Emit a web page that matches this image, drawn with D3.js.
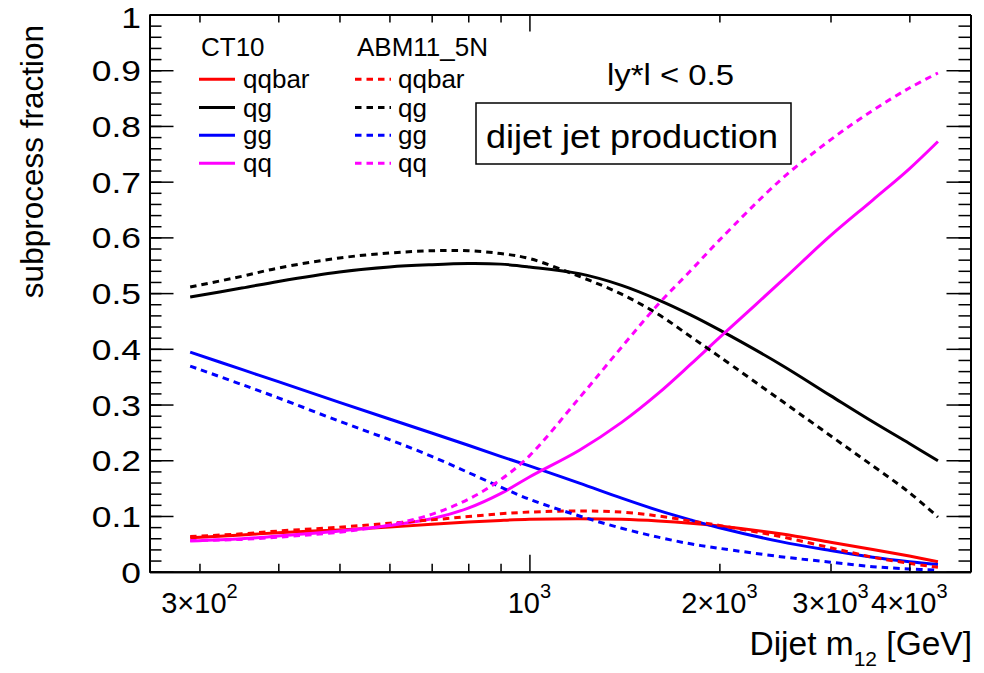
<!DOCTYPE html>
<html><head><meta charset="utf-8">
<script src="https://cdn.jsdelivr.net/npm/d3@7"></script>
<style>
html,body{margin:0;padding:0;background:#fff;}
svg{display:block;font-family:"Liberation Sans",Arial,Helvetica,sans-serif;}
</style></head>
<body><svg id="c" width="984" height="673"></svg>
<script>
// ---- data ----
const mass = [290,350,400,500,600,700,800,900,1000,1200,1400,1600,1800,2000,2500,3000,3500,4000,4440];
const ct10_qqbar = [0.061,0.066,0.070,0.075,0.080,0.085,0.089,0.092,0.094,0.095,0.094,0.091,0.087,0.082,0.068,0.053,0.040,0.028,0.018];
const ct10_qg    = [0.493,0.509,0.521,0.538,0.547,0.551,0.553,0.552,0.547,0.535,0.514,0.488,0.461,0.434,0.372,0.316,0.269,0.230,0.199];
const ct10_gg    = [0.394,0.363,0.341,0.304,0.274,0.249,0.227,0.207,0.190,0.159,0.132,0.110,0.093,0.079,0.054,0.038,0.026,0.018,0.013];
const ct10_qq    = [0.055,0.059,0.064,0.073,0.083,0.095,0.114,0.140,0.170,0.218,0.268,0.320,0.372,0.420,0.520,0.603,0.667,0.723,0.772];
const abm_qqbar  = [0.063,0.068,0.073,0.080,0.087,0.093,0.099,0.104,0.107,0.109,0.107,0.100,0.091,0.083,0.063,0.043,0.026,0.015,0.008];
const abm_qg     = [0.511,0.530,0.545,0.563,0.572,0.576,0.576,0.571,0.562,0.530,0.498,0.462,0.422,0.386,0.308,0.244,0.190,0.142,0.098];
const abm_gg     = [0.369,0.336,0.312,0.270,0.237,0.207,0.178,0.152,0.130,0.100,0.078,0.062,0.050,0.042,0.027,0.017,0.009,0.005,0.003];
const abm_qq     = [0.056,0.058,0.062,0.071,0.084,0.103,0.130,0.165,0.208,0.312,0.403,0.480,0.540,0.595,0.703,0.775,0.828,0.868,0.895];

const xMinorTicks = [300,400,500,600,700,800,900,2000,3000,4000];
const xMajorTicks = [1000];
const xLabels = [{v:300,m:"3×10",e:"2"},{v:1000,m:"10",e:"3"},{v:2000,m:"2×10",e:"3"},{v:3000,m:"3×10",e:"3"},{v:4000,m:"4×10",e:"3"}];
const yMajorTicks = d3.range(0,11).map(i=>i/10);
const yMinorTicks = d3.range(0,51).map(i=>i/50);
const yLabels = ["0","0.1","0.2","0.3","0.4","0.5","0.6","0.7","0.8","0.9","1"];

const seriesColors = ["#ff0000","#000000","#0000ff","#ff00ff"];
const seriesNames = ["qqbar","qg","gg","qq"];
const ct10 = [ct10_qqbar, ct10_qg, ct10_gg, ct10_qq];
const abm = [abm_qqbar, abm_qg, abm_gg, abm_qq];

// ---- layout ----
const L=149.5, R=970.5, T=14.5, B=571.7;
const svg = d3.select("#c");
const x = d3.scaleLog().domain([250,5000]).range([L,R]);
const y = d3.scaleLinear().domain([0,1]).range([B,T]);

// curves
const line = d3.line().x((d,i)=>x(mass[i])).y(d=>y(d)).curve(d3.curveCatmullRom.alpha(0.5));
const gLines = svg.append("g");
ct10.forEach((s,k)=>{
  gLines.append("path").attr("d",line(s)).attr("fill","none")
    .attr("stroke",seriesColors[k]).attr("stroke-width",3);
});
abm.forEach((s,k)=>{
  gLines.append("path").attr("d",line(s)).attr("fill","none")
    .attr("stroke",seriesColors[k]).attr("stroke-width",3).attr("stroke-dasharray","6.5,5");
});

// axes
function styleAxis(g){
  g.selectAll("path.domain").attr("stroke","#000").attr("stroke-width",2);
  g.selectAll(".tick line").attr("stroke","#000").attr("stroke-width",1.5);
  g.selectAll(".tick text").remove();
}
svg.append("g").attr("transform",`translate(0,${B})`)
  .call(d3.axisBottom(x).tickValues(xMinorTicks).tickSizeInner(-8).tickSizeOuter(0).tickFormat("")).call(styleAxis);
svg.append("g").attr("transform",`translate(0,${B})`)
  .call(d3.axisBottom(x).tickValues(xMajorTicks).tickSizeInner(-17).tickSizeOuter(0).tickFormat("")).call(styleAxis);
svg.append("g").attr("transform",`translate(0,${T})`)
  .call(d3.axisTop(x).tickValues(xMinorTicks).tickSizeInner(-8).tickSizeOuter(0).tickFormat("")).call(styleAxis);
svg.append("g").attr("transform",`translate(0,${T})`)
  .call(d3.axisTop(x).tickValues(xMajorTicks).tickSizeInner(-17).tickSizeOuter(0).tickFormat("")).call(styleAxis);
svg.append("g").attr("transform",`translate(${L},0)`)
  .call(d3.axisLeft(y).tickValues(yMinorTicks).tickSizeInner(-12).tickSizeOuter(0).tickFormat("")).call(styleAxis);
svg.append("g").attr("transform",`translate(${L},0)`)
  .call(d3.axisLeft(y).tickValues(yMajorTicks).tickSizeInner(-24).tickSizeOuter(0).tickFormat("")).call(styleAxis);
svg.append("g").attr("transform",`translate(${R},0)`)
  .call(d3.axisRight(y).tickValues(yMinorTicks).tickSizeInner(-12).tickSizeOuter(0).tickFormat("")).call(styleAxis);
svg.append("g").attr("transform",`translate(${R},0)`)
  .call(d3.axisRight(y).tickValues(yMajorTicks).tickSizeInner(-24).tickSizeOuter(0).tickFormat("")).call(styleAxis);

// y tick labels
svg.append("g").selectAll("text").data(yMajorTicks).join("text")
  .attr("transform",d=>`translate(141,${Math.max(y(d)+11,28)}) scale(1.18,1)`).attr("text-anchor","end")
  .attr("font-size",30).text((d,i)=>yLabels[i]);

// x tick labels
const xl = svg.append("g").selectAll("text").data(xLabels).join("text")
  .attr("x",d=>x(d.v)).attr("y",613).attr("text-anchor","middle").attr("font-size",29);
xl.append("tspan").text(d=>d.m);
xl.append("tspan").attr("dy",-15).attr("font-size",20).text(d=>d.e);

// axis titles
const xt = svg.append("text").attr("x",972).attr("y",655).attr("text-anchor","end").attr("font-size",33.5);
xt.append("tspan").text("Dijet m");
xt.append("tspan").attr("dy",11).attr("font-size",21).text("12");
xt.append("tspan").attr("dy",-11).text(" [GeV]");

svg.append("text").attr("transform","translate(43,25) rotate(-90)")
  .attr("text-anchor","end").attr("font-size",31.5).text("subprocess fraction");

// legend
const lg = svg.append("g").attr("font-size",26);
lg.append("text").attr("x",201).attr("y",56).text("CT10");
lg.append("text").attr("x",357).attr("y",56).text("ABM11_5N");
const rowY = [79.3,107.5,135.3,163.3];
seriesNames.forEach((n,k)=>{
  lg.append("line").attr("x1",199).attr("x2",235).attr("y1",rowY[k]).attr("y2",rowY[k])
    .attr("stroke",seriesColors[k]).attr("stroke-width",3);
  lg.append("text").attr("x",243).attr("y",rowY[k]+9).text(n);
  lg.append("line").attr("x1",355).attr("x2",391).attr("y1",rowY[k]).attr("y2",rowY[k])
    .attr("stroke",seriesColors[k]).attr("stroke-width",3).attr("stroke-dasharray","6.5,5");
  lg.append("text").attr("x",398).attr("y",rowY[k]+9).text(n);
});

// annotations
svg.append("text").attr("x",607).attr("y",85).attr("font-size",29)
  .attr("textLength",127).attr("lengthAdjust","spacingAndGlyphs").text("ly*l < 0.5");
svg.append("rect").attr("x",476).attr("y",103).attr("width",315).attr("height",61)
  .attr("fill","#fff").attr("stroke","#000").attr("stroke-width",1.5);
svg.append("text").attr("x",486).attr("y",148).attr("font-size",34)
  .attr("textLength",292).attr("lengthAdjust","spacingAndGlyphs").text("dijet jet production");
</script></body></html>
